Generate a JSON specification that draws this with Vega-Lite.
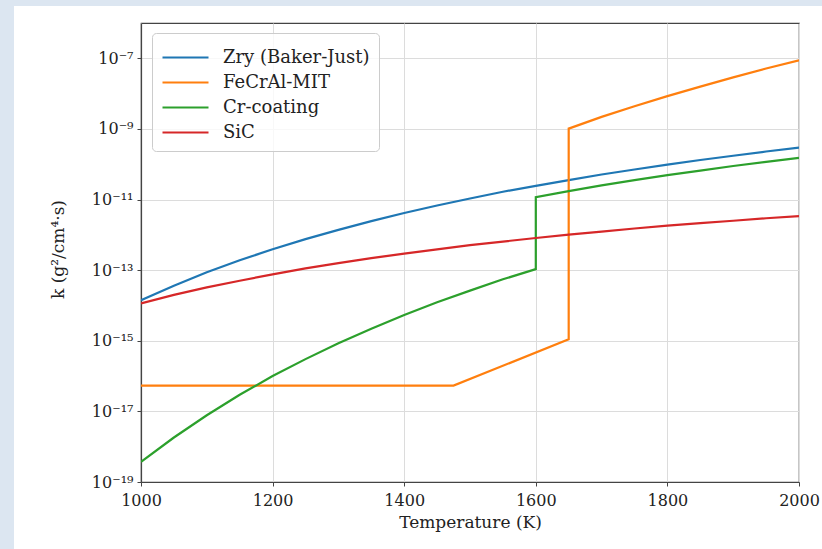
{
  "$schema": "https://vega.github.io/schema/vega-lite/v6.json",
  "width": 658,
  "height": 459,
  "autosize": "none",
  "padding": {"left": 141, "top": 23, "right": 23, "bottom": 67},
  "background": "white",
  "config": {
    "font": "DejaVu Serif",
    "view": {"stroke": "#444444", "strokeWidth": 1.2}
  },
  "datasets": {
    "curves": [
      {"s": "Zry (Baker-Just)", "i": 1, "T": 1000, "k": 1.41e-14},
      {"s": "Zry (Baker-Just)", "i": 2, "T": 1050, "k": 3.63e-14},
      {"s": "Zry (Baker-Just)", "i": 3, "T": 1100, "k": 8.71e-14},
      {"s": "Zry (Baker-Just)", "i": 4, "T": 1150, "k": 1.91e-13},
      {"s": "Zry (Baker-Just)", "i": 5, "T": 1200, "k": 3.89e-13},
      {"s": "Zry (Baker-Just)", "i": 6, "T": 1250, "k": 7.59e-13},
      {"s": "Zry (Baker-Just)", "i": 7, "T": 1300, "k": 1.38e-12},
      {"s": "Zry (Baker-Just)", "i": 8, "T": 1350, "k": 2.45e-12},
      {"s": "Zry (Baker-Just)", "i": 9, "T": 1400, "k": 4.17e-12},
      {"s": "Zry (Baker-Just)", "i": 10, "T": 1450, "k": 6.76e-12},
      {"s": "Zry (Baker-Just)", "i": 11, "T": 1500, "k": 1.07e-11},
      {"s": "Zry (Baker-Just)", "i": 12, "T": 1550, "k": 1.66e-11},
      {"s": "Zry (Baker-Just)", "i": 13, "T": 1600, "k": 2.45e-11},
      {"s": "Zry (Baker-Just)", "i": 14, "T": 1650, "k": 3.55e-11},
      {"s": "Zry (Baker-Just)", "i": 15, "T": 1700, "k": 5.13e-11},
      {"s": "Zry (Baker-Just)", "i": 16, "T": 1750, "k": 7.08e-11},
      {"s": "Zry (Baker-Just)", "i": 17, "T": 1800, "k": 9.77e-11},
      {"s": "Zry (Baker-Just)", "i": 18, "T": 1850, "k": 1.32e-10},
      {"s": "Zry (Baker-Just)", "i": 19, "T": 1900, "k": 1.74e-10},
      {"s": "Zry (Baker-Just)", "i": 20, "T": 1950, "k": 2.29e-10},
      {"s": "Zry (Baker-Just)", "i": 21, "T": 2000, "k": 2.95e-10},
      {"s": "FeCrAl-MIT", "i": 1, "T": 1000, "k": 5.37e-17},
      {"s": "FeCrAl-MIT", "i": 2, "T": 1250, "k": 5.37e-17},
      {"s": "FeCrAl-MIT", "i": 3, "T": 1475, "k": 5.37e-17},
      {"s": "FeCrAl-MIT", "i": 5, "T": 1650, "k": 1.10e-15},
      {"s": "FeCrAl-MIT", "i": 6, "T": 1650, "k": 1.02e-9},
      {"s": "FeCrAl-MIT", "i": 7, "T": 1700, "k": 2.19e-9},
      {"s": "FeCrAl-MIT", "i": 8, "T": 1750, "k": 4.37e-9},
      {"s": "FeCrAl-MIT", "i": 9, "T": 1800, "k": 8.51e-9},
      {"s": "FeCrAl-MIT", "i": 10, "T": 1850, "k": 1.58e-8},
      {"s": "FeCrAl-MIT", "i": 11, "T": 1900, "k": 2.88e-8},
      {"s": "FeCrAl-MIT", "i": 12, "T": 1950, "k": 5.13e-8},
      {"s": "FeCrAl-MIT", "i": 13, "T": 2000, "k": 8.71e-8},
      {"s": "Cr-coating", "i": 1, "T": 1000, "k": 3.72e-19},
      {"s": "Cr-coating", "i": 2, "T": 1050, "k": 1.82e-18},
      {"s": "Cr-coating", "i": 3, "T": 1100, "k": 7.76e-18},
      {"s": "Cr-coating", "i": 4, "T": 1150, "k": 2.95e-17},
      {"s": "Cr-coating", "i": 5, "T": 1200, "k": 1.00e-16},
      {"s": "Cr-coating", "i": 6, "T": 1250, "k": 3.02e-16},
      {"s": "Cr-coating", "i": 7, "T": 1300, "k": 8.51e-16},
      {"s": "Cr-coating", "i": 8, "T": 1350, "k": 2.19e-15},
      {"s": "Cr-coating", "i": 9, "T": 1400, "k": 5.37e-15},
      {"s": "Cr-coating", "i": 10, "T": 1450, "k": 1.23e-14},
      {"s": "Cr-coating", "i": 11, "T": 1500, "k": 2.63e-14},
      {"s": "Cr-coating", "i": 12, "T": 1550, "k": 5.50e-14},
      {"s": "Cr-coating", "i": 13, "T": 1600, "k": 1.07e-13},
      {"s": "Cr-coating", "i": 14, "T": 1600, "k": 1.17e-11},
      {"s": "Cr-coating", "i": 15, "T": 1650, "k": 1.74e-11},
      {"s": "Cr-coating", "i": 16, "T": 1700, "k": 2.51e-11},
      {"s": "Cr-coating", "i": 17, "T": 1750, "k": 3.55e-11},
      {"s": "Cr-coating", "i": 18, "T": 1800, "k": 4.90e-11},
      {"s": "Cr-coating", "i": 19, "T": 1850, "k": 6.61e-11},
      {"s": "Cr-coating", "i": 20, "T": 1900, "k": 8.91e-11},
      {"s": "Cr-coating", "i": 21, "T": 1950, "k": 1.17e-10},
      {"s": "Cr-coating", "i": 22, "T": 2000, "k": 1.51e-10},
      {"s": "SiC", "i": 1, "T": 1000, "k": 1.15e-14},
      {"s": "SiC", "i": 2, "T": 1050, "k": 2.00e-14},
      {"s": "SiC", "i": 3, "T": 1100, "k": 3.24e-14},
      {"s": "SiC", "i": 4, "T": 1150, "k": 5.01e-14},
      {"s": "SiC", "i": 5, "T": 1200, "k": 7.59e-14},
      {"s": "SiC", "i": 6, "T": 1250, "k": 1.12e-13},
      {"s": "SiC", "i": 7, "T": 1300, "k": 1.58e-13},
      {"s": "SiC", "i": 8, "T": 1350, "k": 2.19e-13},
      {"s": "SiC", "i": 9, "T": 1400, "k": 2.95e-13},
      {"s": "SiC", "i": 10, "T": 1450, "k": 3.89e-13},
      {"s": "SiC", "i": 11, "T": 1500, "k": 5.13e-13},
      {"s": "SiC", "i": 12, "T": 1550, "k": 6.46e-13},
      {"s": "SiC", "i": 13, "T": 1600, "k": 8.13e-13},
      {"s": "SiC", "i": 14, "T": 1650, "k": 1.02e-12},
      {"s": "SiC", "i": 15, "T": 1700, "k": 1.23e-12},
      {"s": "SiC", "i": 16, "T": 1750, "k": 1.51e-12},
      {"s": "SiC", "i": 17, "T": 1800, "k": 1.82e-12},
      {"s": "SiC", "i": 18, "T": 1850, "k": 2.14e-12},
      {"s": "SiC", "i": 19, "T": 1900, "k": 2.51e-12},
      {"s": "SiC", "i": 20, "T": 1950, "k": 2.95e-12},
      {"s": "SiC", "i": 21, "T": 2000, "k": 3.39e-12}
    ]
  },
  "layer": [
    {
      "data": {"name": "curves"},
      "mark": {"type": "line", "strokeWidth": 2.2, "clip": true},
      "encoding": {
        "x": {
          "field": "T",
          "type": "quantitative",
          "scale": {"domain": [1000, 2000], "nice": false, "zero": false},
          "axis": {
            "values": [1000, 1200, 1400, 1600, 1800, 2000],
            "format": "d",
            "title": "Temperature (K)",
            "labelFontSize": 16,
            "labelColor": "#222222",
            "labelPadding": 6,
            "labelFlush": false,
            "labelOverlap": false,
            "tickSize": 4,
            "tickColor": "#444444",
            "domainColor": "#444444",
            "domainWidth": 1.2,
            "gridColor": "#dcdcdc",
            "gridWidth": 1,
            "titleFontSize": 17,
            "titleFontWeight": "normal",
            "titleColor": "#222222",
            "titlePadding": 6
          }
        },
        "y": {
          "field": "k",
          "type": "quantitative",
          "scale": {"type": "log", "domain": [1e-19, 1e-6], "nice": false},
          "axis": {
            "values": [1e-19, 1e-17, 1e-15, 1e-13, 1e-11, 1e-9, 1e-7],
            "labelExpr": "datum.value < 5e-19 ? '10⁻¹⁹' : datum.value < 5e-17 ? '10⁻¹⁷' : datum.value < 5e-15 ? '10⁻¹⁵' : datum.value < 5e-13 ? '10⁻¹³' : datum.value < 5e-11 ? '10⁻¹¹' : datum.value < 5e-9 ? '10⁻⁹' : '10⁻⁷'",
            "title": "k (g²/cm⁴·s)",
            "labelFontSize": 16,
            "labelColor": "#222222",
            "labelPadding": 4,
            "labelOverlap": false,
            "tickSize": 4,
            "tickColor": "#444444",
            "domainColor": "#444444",
            "domainWidth": 1.2,
            "gridColor": "#dcdcdc",
            "gridWidth": 1,
            "titleFontSize": 17,
            "titleFontWeight": "normal",
            "titleColor": "#222222",
            "titleX": -83,
            "titleY": 226,
            "titleAngle": -90,
            "titleAlign": "center",
            "titleBaseline": "middle"
          }
        },
        "color": {
          "field": "s",
          "type": "nominal",
          "scale": {
            "domain": ["Zry (Baker-Just)", "FeCrAl-MIT", "Cr-coating", "SiC"],
            "range": ["#1f77b4", "#ff7f0e", "#2ca02c", "#d62728"]
          },
          "legend": {
            "orient": "none",
            "legendX": 11,
            "legendY": 10,
            "title": null,
            "symbolType": "M-1,0H2.286",
            "symbolSize": 784,
            "symbolStrokeWidth": 2.2,
            "labelFontSize": 18,
            "labelColor": "#222222",
            "labelOffset": 31,
            "padding": 9,
            "rowPadding": 0,
            "fillColor": "rgba(255,255,255,0.8)",
            "strokeColor": "#cccccc",
            "cornerRadius": 4
          }
        },
        "order": {"field": "i", "type": "quantitative"}
      }
    },
    {
      "data": {"values": [{"part": "left band"}]},
      "mark": {"type": "rect", "fill": "#dce6f1", "clip": false},
      "encoding": {
        "x": {"datum": 700, "type": "quantitative"},
        "x2": {"datum": 807},
        "y": {"datum": 1e-4, "type": "quantitative"},
        "y2": {"datum": 1e-23}
      }
    },
    {
      "data": {"values": [{"part": "top band"}]},
      "mark": {"type": "rect", "fill": "#dce6f1", "clip": false},
      "encoding": {
        "x": {"datum": 700, "type": "quantitative"},
        "x2": {"datum": 2300},
        "y": {"datum": 1e-4, "type": "quantitative"},
        "y2": {"datum": 3.03e-6}
      }
    }
  ]
}
